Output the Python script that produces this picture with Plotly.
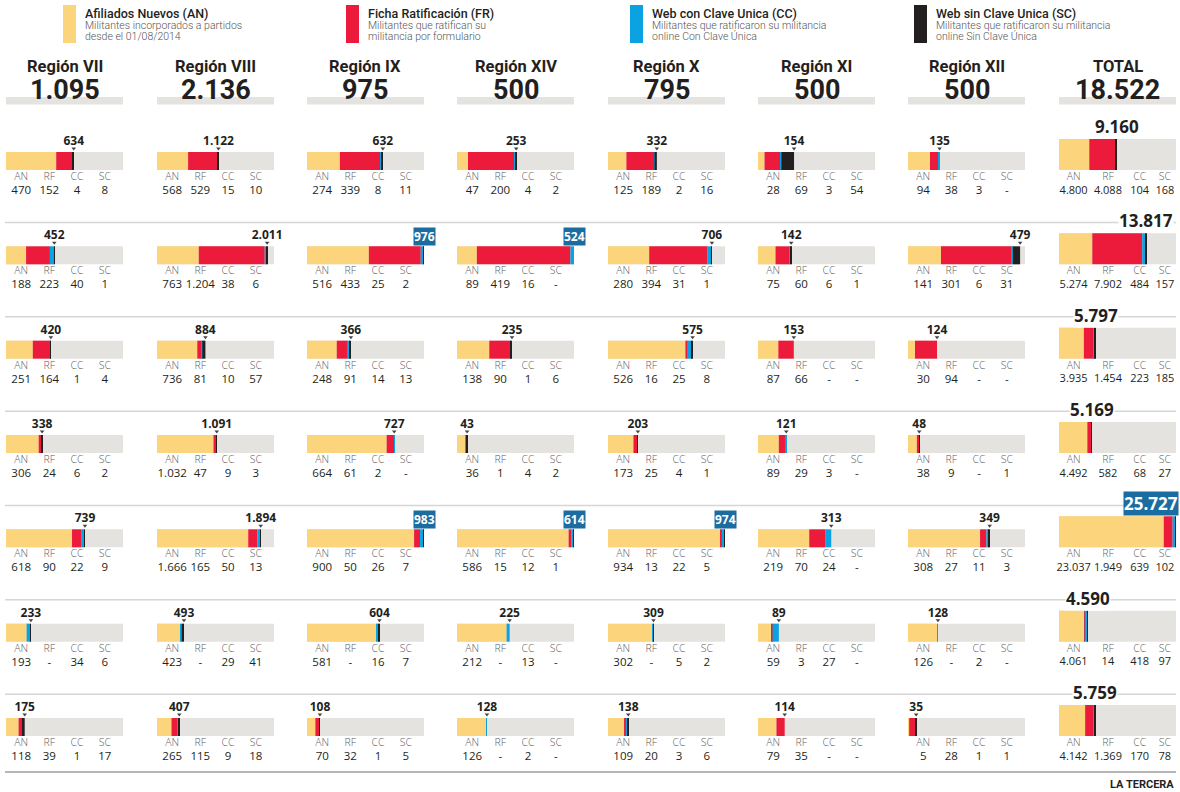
import plotly.graph_objects as go

# ---------------- DATA ----------------
regions = ["Región VII", "Región VIII", "Región IX", "Región XIV",
           "Región X", "Región XI", "Región XII", "TOTAL"]
thresholds = [1095, 2136, 975, 500, 795, 500, 500, 18522]
abbrevs = ["AN", "RF", "CC", "SC"]

# rows (7 parties) x columns (7 regions + total)
an = [
    [470, 568, 274, 47, 125, 28, 94, 4800],
    [188, 763, 516, 89, 280, 75, 141, 5274],
    [251, 736, 248, 138, 526, 87, 30, 3935],
    [306, 1032, 664, 36, 173, 89, 38, 4492],
    [618, 1666, 900, 586, 934, 219, 308, 23037],
    [193, 423, 581, 212, 302, 59, 126, 4061],
    [118, 265, 70, 126, 109, 79, 5, 4142],
]
rf = [
    [152, 529, 339, 200, 189, 69, 38, 4088],
    [223, 1204, 433, 419, 394, 60, 301, 7902],
    [164, 81, 91, 90, 16, 66, 94, 1454],
    [24, 47, 61, 1, 25, 29, 9, 582],
    [90, 165, 50, 15, 13, 70, 27, 1949],
    [0, 0, 0, 0, 0, 3, 0, 14],
    [39, 115, 32, 0, 20, 35, 28, 1369],
]
cc = [
    [4, 15, 8, 4, 2, 3, 3, 104],
    [40, 38, 25, 16, 31, 6, 6, 484],
    [1, 10, 14, 1, 25, 0, 0, 223],
    [6, 9, 2, 4, 4, 3, 0, 68],
    [22, 50, 26, 12, 22, 24, 11, 639],
    [34, 29, 16, 13, 5, 27, 2, 418],
    [1, 9, 1, 2, 3, 0, 1, 170],
]
sc = [
    [8, 10, 11, 2, 16, 54, 0, 168],
    [1, 6, 2, 0, 1, 1, 31, 157],
    [4, 57, 13, 6, 8, 0, 0, 185],
    [2, 3, 0, 2, 1, 0, 1, 27],
    [9, 13, 7, 1, 5, 0, 3, 102],
    [6, 41, 7, 0, 2, 0, 0, 97],
    [17, 18, 5, 0, 6, 0, 1, 78],
]

legend_titles = ["Afiliados Nuevos (AN)", "Ficha Ratificación (FR)",
                 "Web con Clave Unica (CC)", "Web sin Clave Unica (SC)"]
legend_desc = [
    ["Militantes incorporados a partidos", "desde el 01/08/2014"],
    ["Militantes que ratifican su", "militancia por formulario"],
    ["Militantes que ratificaron su militancia", "online Con Clave Única"],
    ["Militantes que ratificaron su militancia", "online Sin Clave Única"],
]

# ---------------- STYLE / LAYOUT ----------------
W, H = 1180, 792
C_AN, C_RF, C_CC, C_SC = "#FBD47B", "#EC1A3B", "#0AA2E0", "#231F20"
GRAY = "#E4E3DF"
BOX = "#1B6CA0"
DARK = "#231F20"
seg_colors = [C_AN, C_RF, C_CC, C_SC]
COL_X0 = [6, 157, 307, 457, 608, 758, 908, 1059]
BAR_W = 117
ROW0, PITCH = 161, 94.33
REG_FR = [0.13, 0.37, 0.607, 0.845]
TOT_FR = [0.125, 0.418, 0.69, 0.905]
HEAD = "Roboto"
BODY = "Open Sans"


def ry(px):
    return px / PITCH


def py2p(py):
    return 1 - py / H


def fmt(v):
    return "-" if v == 0 else f"{v:,}".replace(",", ".")


fig = go.Figure()
annotations = []
shapes = []
rows = list(range(7))
series = [an, rf, cc, sc]

for c in range(8):
    xa = "x" if c == 0 else f"x{c + 1}"
    is_total = c == 7
    thr = thresholds[c]
    yoff = ry(-6.5) if is_total else 0
    bw = ry(31) if is_total else ry(18)
    ys = [r + yoff for r in rows]

    fig.add_trace(go.Bar(x=[thr] * 7, y=ys, base=[0] * 7, orientation="h", width=bw,
                         marker=dict(color=GRAY, line=dict(width=0)),
                         xaxis=xa, yaxis="y", hoverinfo="skip", showlegend=False))
    totals = [sum(s[r][c] for s in series) for r in rows]
    scales = [min(1.0, thr / t) for t in totals]
    base = [0.0] * 7
    for s, col in zip(series, seg_colors):
        lens = [s[r][c] * scales[r] for r in rows]
        fig.add_trace(go.Bar(x=lens, y=ys, base=base[:], orientation="h", width=bw,
                             marker=dict(color=col, line=dict(width=0)),
                             xaxis=xa, yaxis="y", hoverinfo="skip", showlegend=False))
        base = [b + l for b, l in zip(base, lens)]

    fr = TOT_FR if is_total else REG_FR
    # abbreviations and values
    ax, ay, at, vx, vy, vt = [], [], [], [], [], []
    for r in rows:
        for k, ab in enumerate(abbrevs):
            ax.append(fr[k] * thr); ay.append(r + ry(16.5)); at.append(ab)
            vx.append(fr[k] * thr); vy.append(r + ry(30)); vt.append(fmt(series[k][r][c]))
    fig.add_trace(go.Scatter(x=ax, y=ay, text=at, mode="text", cliponaxis=False,
                             textfont=dict(family=BODY, size=10.5, color="#5c5c5c", weight=300),
                             xaxis=xa, yaxis="y", hoverinfo="skip", showlegend=False))
    fig.add_trace(go.Scatter(x=vx, y=vy, text=vt, mode="text", cliponaxis=False,
                             textfont=dict(family=BODY, size=(11 if is_total else 11.5), color=DARK),
                             xaxis=xa, yaxis="y", hoverinfo="skip", showlegend=False))

    # end labels
    lx, ly, lt = [], [], []
    cx, cy = [], []
    for r in rows:
        end = min(totals[r], thr)
        cx.append(end)
        cy.append(r + (ry(-27) if is_total else ry(-12.5)))
        over = totals[r] > thr
        if is_total or over:
            annotations.append(dict(
                x=end, y=r + (ry(-34.5) if is_total else ry(-19)), xref=xa, yref="y",
                text=f"<b>{fmt(totals[r])}</b>", showarrow=False,
                xanchor=("right" if (is_total and over) else "center"), yanchor="middle",
                xshift=(3 if (is_total and over) else 0),
                font=dict(family=BODY, size=(17 if is_total else 12),
                          color=("white" if over else DARK)),
                bgcolor=(BOX if over else "white"), borderpad=0))
        else:
            lx.append(end); ly.append(r + ry(-19)); lt.append(fmt(totals[r]))
    if lx:
        fig.add_trace(go.Scatter(x=lx, y=ly, text=lt, mode="text", cliponaxis=False,
                                 textfont=dict(family=BODY, size=12, color=DARK, weight=700),
                                 xaxis=xa, yaxis="y", hoverinfo="skip", showlegend=False))
    fig.add_trace(go.Scatter(x=cx, y=cy, mode="markers", cliponaxis=False,
                             marker=dict(symbol="triangle-down", size=4, color="#444"),
                             xaxis=xa, yaxis="y", hoverinfo="skip", showlegend=False))

    # headers
    xc = (COL_X0[c] + BAR_W / 2) / W
    shapes.append(dict(type="rect", xref="paper", yref="paper",
                       x0=COL_X0[c] / W, x1=(COL_X0[c] + BAR_W) / W,
                       y0=py2p(104.5), y1=py2p(97), fillcolor=GRAY, line=dict(width=0), layer="below"))
    annotations.append(dict(x=xc, y=py2p(67), xref="paper", yref="paper", text=regions[c],
                            showarrow=False, xanchor="center", yanchor="middle",
                            font=dict(family=HEAD, size=16.5, color=DARK, weight=700)))
    annotations.append(dict(x=xc, y=py2p(90), xref="paper", yref="paper", text=fmt(thr),
                            showarrow=False, xanchor="center", yanchor="middle",
                            font=dict(family=HEAD, size=27, color=DARK, weight=700)))

# separators
for r in range(6):
    shapes.append(dict(type="line", xref="paper", yref="y", x0=5 / W, x1=1176 / W,
                       y0=r + ry(61.5), y1=r + ry(61.5), line=dict(color="#D6D6D6", width=1.5), layer="below"))
shapes.append(dict(type="line", xref="paper", yref="y", x0=5 / W, x1=1176 / W,
                   y0=6 + ry(45), y1=6 + ry(45), line=dict(color="#9E9E9E", width=1.5), layer="below"))

# legend
LEG_X = [63, 346, 630, 914]
for i in range(4):
    shapes.append(dict(type="rect", xref="paper", yref="paper",
                       x0=LEG_X[i] / W, x1=(LEG_X[i] + 13) / W, y0=py2p(43), y1=py2p(5),
                       fillcolor=seg_colors[i], line=dict(width=0)))
    annotations.append(dict(x=(LEG_X[i] + 20) / W, y=py2p(13.5), xref="paper", yref="paper",
                            text=legend_titles[i], showarrow=False, xanchor="left", yanchor="middle",
                            font=dict(family="Roboto", size=12.5, color=DARK, weight=500)))
    for j, line in enumerate(legend_desc[i]):
        annotations.append(dict(x=(LEG_X[i] + 20) / W, y=py2p(25 + 11.5 * j), xref="paper", yref="paper",
                                text=line, showarrow=False, xanchor="left", yanchor="middle",
                                font=dict(family="Roboto", size=10.5, color="#555555", weight=300)))

annotations.append(dict(x=1176 / W, y=py2p(784), xref="paper", yref="paper", text="LA TERCERA",
                        showarrow=False, xanchor="right", yanchor="middle",
                        font=dict(family=HEAD, size=11, color=DARK, weight=700)))

layout_axes = {}
for c in range(8):
    name = "xaxis" if c == 0 else f"xaxis{c + 1}"
    layout_axes[name] = dict(domain=[COL_X0[c] / W, (COL_X0[c] + BAR_W) / W], range=[0, thresholds[c]],
                             visible=False, fixedrange=True, anchor="y")
layout_axes["yaxis"] = dict(domain=[0, 1], range=[(H - ROW0) / PITCH, -ROW0 / PITCH],
                            visible=False, fixedrange=True, anchor="x")

fig.update_layout(width=W, height=H, margin=dict(l=0, r=0, t=0, b=0),
                  paper_bgcolor="white", plot_bgcolor="rgba(0,0,0,0)",
                  barmode="overlay", showlegend=False,
                  annotations=annotations, shapes=shapes, **layout_axes)

fig.write_html("out.html", config={"displayModeBar": False})
